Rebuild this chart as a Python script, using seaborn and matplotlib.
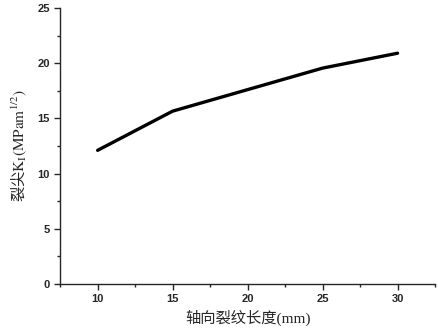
import matplotlib
matplotlib.use('Agg')
import matplotlib.pyplot as plt
import seaborn as sns
import pandas as pd
from matplotlib.ticker import MultipleLocator

# 轴向裂纹长度 (mm) vs 裂尖应力强度因子
crack_length = [10, 15, 20, 25, 30]
k_values = [12.1, 15.65, 17.6, 19.55, 20.9]

sns.set_style('ticks')
plt.rcParams['font.family'] = ['Liberation Serif', 'Noto Sans CJK SC']
plt.rcParams['mathtext.fontset'] = 'stix'

df = pd.DataFrame({'x': crack_length, 'k': k_values})

fig = plt.figure(figsize=(4.39, 3.32), dpi=100)
ax = fig.add_axes([0.137, 0.145, 0.854, 0.831])
sns.lineplot(data=df, x='x', y='k', color='black', linewidth=2.4, ax=ax)

ax.set_xlim(7.5, 32.5)
ax.set_ylim(0, 25)
ax.xaxis.set_major_locator(MultipleLocator(5))
ax.xaxis.set_minor_locator(MultipleLocator(2.5))
ax.yaxis.set_major_locator(MultipleLocator(5))
ax.yaxis.set_minor_locator(MultipleLocator(2.5))
ax.set_xticks([10, 15, 20, 25, 30])

sns.despine(ax=ax)
for s in ['left', 'bottom']:
    ax.spines[s].set_linewidth(1.0)
ax.tick_params(which='major', direction='out', length=4, width=1)
ax.tick_params(which='minor', direction='out', length=2.5, width=1)
for lab in ax.get_xticklabels() + ax.get_yticklabels():
    lab.set_family(['Liberation Sans', 'DejaVu Sans'])
    lab.set_fontweight('bold')
    lab.set_fontsize(8)

ax.set_xlabel('轴向裂纹长度(mm)', fontsize=11)
# 非数学部分用CJK字体, 其余用stix
ax.set_ylabel('裂尖$\\mathrm{K_I(MPam^{1/2})}$', fontsize=11,
              family='Noto Sans CJK SC', labelpad=6)

fig.savefig('out.png', dpi=100)
plt.close(fig)
